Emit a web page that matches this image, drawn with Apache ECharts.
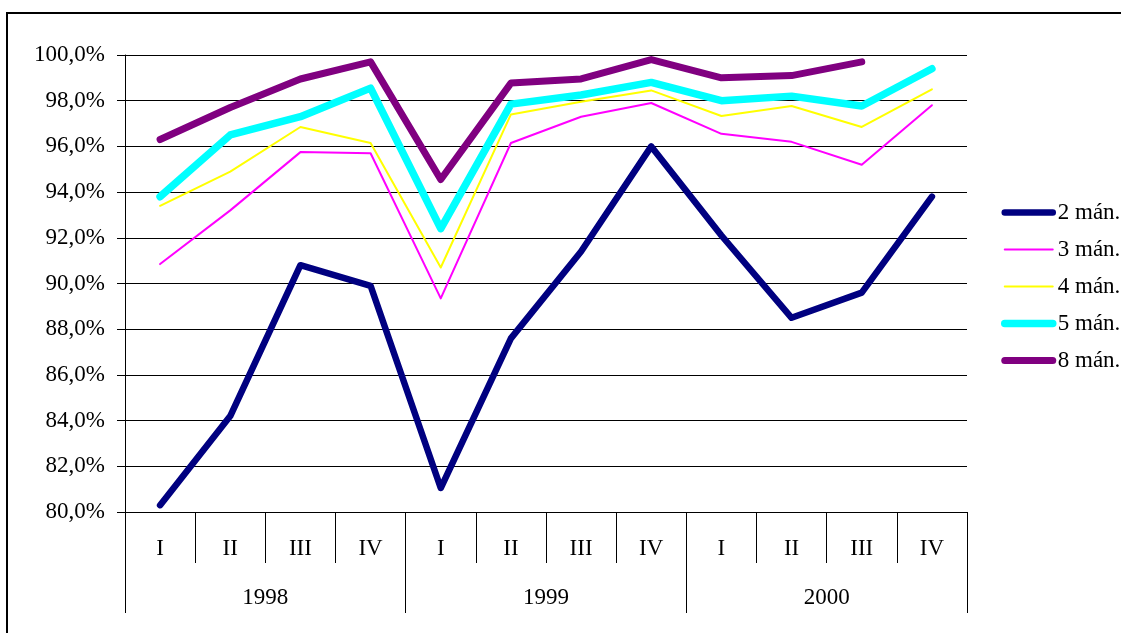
<!DOCTYPE html>
<html>
<head>
<meta charset="utf-8">
<script src="https://cdn.jsdelivr.net/npm/echarts@6/dist/echarts.min.js"></script>
<style>
html,body{margin:0;padding:0;background:#fff;}
#c{width:1121px;height:633px;}
</style>
</head>
<body>
<div id="c"></div>
<script>
const quarters = ['I','II','III','IV','I','II','III','IV','I','II','III','IV'];
const years = ['1998','1999','2000'];
const seriesNames = ['2 mán.','3 mán.','4 mán.','5 mán.','8 mán.'];
const man2 = [80.3, 84.2, 90.8, 89.9, 81.05, 87.6, 91.4, 96.0, 92.1, 88.5, 89.6, 93.8];
const man3 = [90.85, 93.2, 95.75, 95.7, 89.35, 96.15, 97.3, 97.9, 96.55, 96.2, 95.2, 97.8];
const man4 = [93.4, 94.9, 96.85, 96.15, 90.7, 97.4, 97.95, 98.45, 97.33, 97.77, 96.85, 98.5];
const man5 = [93.8, 96.5, 97.3, 98.55, 92.4, 97.85, 98.25, 98.8, 98.0, 98.2, 97.77, 99.4];
const man8 = [96.3, 97.7, 98.95, 99.7, 94.55, 98.77, 98.95, 99.8, 99.0, 99.1, 99.7, null];
const yTicks = {min: 80, max: 100, interval: 2};

const FONT = '"Liberation Serif", "Times New Roman", serif';
const FS = 23;
const colors = ['#000080','#FF00FF','#FFFF00','#00FFFF','#800080'];
const widths = [6.5, 2, 2, 7.5, 7];
const values = [man2, man3, man4, man5, man8];

const chart = echarts.init(document.getElementById('c'), null, {renderer:'canvas'});
chart.setOption({
  animation: false,
  backgroundColor: '#fff',
  graphic: [{
    type: 'rect', silent: true, z: -10,
    shape: {x: 7, y: 13, width: 1140, height: 660},
    style: {fill: 'none', stroke: '#000', lineWidth: 2}
  }],
  grid: {left: 125, right: 154, top: 55, bottom: 121, containLabel: false},
  legend: {
    orient: 'vertical',
    left: 996, top: 196,
    itemWidth: 48, itemHeight: 14, itemGap: 14,
    itemStyle: {opacity: 0},
    lineStyle: {width: 'inherit', cap: 'round'},
    textStyle: {fontFamily: FONT, fontSize: FS, color: '#000', lineHeight: 23},
    data: seriesNames
  },
  xAxis: [{
    type: 'category', data: quarters, boundaryGap: true, position: 'bottom',
    axisLine: {show: true, lineStyle: {color: '#000', width: 1}},
    axisTick: {show: true, interval: 0, length: 51, lineStyle: {color: '#000', width: 1}},
    axisLabel: {interval: 0, margin: 25, fontFamily: FONT, fontSize: FS, color: '#000'},
    splitLine: {show: false}
  }, {
    type: 'category', data: years, boundaryGap: true, position: 'bottom', gridIndex: 0,
    axisLine: {show: false},
    axisTick: {show: true, interval: 0, length: 101, lineStyle: {color: '#000', width: 1}},
    axisLabel: {interval: 0, margin: 74, fontFamily: FONT, fontSize: FS, color: '#000'},
    splitLine: {show: false}
  }],
  yAxis: {
    type: 'value', min: yTicks.min, max: yTicks.max, interval: yTicks.interval,
    axisLine: {show: true, lineStyle: {color: '#000', width: 1}},
    axisTick: {show: true, length: 8, lineStyle: {color: '#000'}},
    axisLabel: {margin: 20, fontFamily: FONT, fontSize: FS, color: '#000',
      formatter: v => v.toFixed(1).replace('.', ',') + '%'},
    splitLine: {show: true, lineStyle: {color: '#000', width: 1}}
  },
  series: seriesNames.map((n, i) => ({
    name: n, type: 'line', xAxisIndex: 0, data: values[i],
    symbol: 'none', showSymbol: false,
    color: colors[i],
    lineStyle: {color: colors[i], width: widths[i], cap: 'round', join: 'round'},
    connectNulls: false
  }))
});
</script>
</body>
</html>
